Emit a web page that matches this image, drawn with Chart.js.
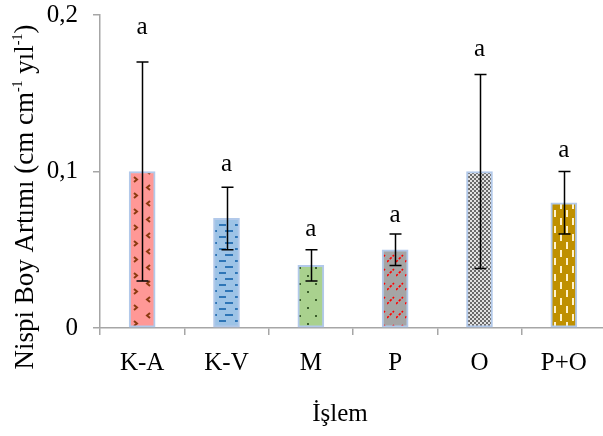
<!DOCTYPE html>
<html><head><meta charset="utf-8">
<script src="https://cdn.jsdelivr.net/npm/chart.js@4"></script>
<style>html,body{margin:0;padding:0;overflow:hidden;background:#fff;} #wrap{width:606px;height:436px;position:relative;}</style>
</head><body><div id="wrap"><canvas id="c" width="606" height="436"></canvas></div>
<script>
// ---- data ----
const categories = ['K-A', 'K-V', 'M', 'P', 'O', 'P+O'];
const values = [0.1, 0.07, 0.04, 0.05, 0.1, 0.08];
const errLow = [0.03, 0.05, 0.03, 0.04, 0.038, 0.06];
const errHigh = [0.17, 0.09, 0.05, 0.06, 0.162, 0.1];
const letters = ['a', 'a', 'a', 'a', 'a', 'a'];
const letterY = [0.1876, 0.1006, 0.059, 0.0675, 0.174, 0.109];
const yTickValues = [0, 0.1, 0.2];
const yTickLabels = ['0', '0,1', '0,2'];
const xTitle = 'İşlem';
const yTitleParts = [['Nispi Boy Artımı (cm cm', false], ['-1', true], [' yıl', false], ['-1', true], [')', false]];

const FONT = '"Liberation Serif", "Times New Roman", serif';

function makePattern(w, h, bg, draw) {
  const c = document.createElement('canvas');
  c.width = w; c.height = h;
  const g = c.getContext('2d');
  g.fillStyle = bg; g.fillRect(0, 0, w, h);
  draw(g);
  return document.getElementById('c').getContext('2d').createPattern(c, 'repeat');
}
const patterns = [
  makePattern(22, 16, '#FF9896', g => {
    g.strokeStyle = '#8B3A10'; g.lineWidth = 2;
    g.beginPath(); g.moveTo(2, 1); g.lineTo(5, 3.5); g.lineTo(2, 6); g.stroke();
    g.beginPath(); g.moveTo(18, 9); g.lineTo(15, 11.5); g.lineTo(18, 14); g.stroke();
  }),
  makePattern(16, 12, '#9DC3E6', g => {
    g.fillStyle = '#2E75B6';
    g.fillRect(1, 2, 8, 2);
    g.fillRect(11, 8, 5, 2);
    g.fillRect(0, 8, 2, 2);
  }),
  makePattern(16, 16, '#A9D18E', g => {
    g.fillStyle = '#3B5E2B';
    g.fillRect(3, 3, 2, 2);
    g.fillRect(11, 11, 2, 2);
  }),
  makePattern(9, 14, '#A5A5A5', g => {
    g.strokeStyle = '#FF0000'; g.lineWidth = 1.6; g.setLineDash([2.5, 1.5]);
    g.beginPath(); g.moveTo(0, 10); g.lineTo(7, 3); g.stroke();
  }),
  makePattern(4, 4, '#E2E2E2', g => {
    g.fillStyle = '#6A6A6A';
    g.fillRect(0, 0, 2, 2); g.fillRect(2, 2, 2, 2);
  }),
  makePattern(12, 16, '#BF9000', g => {
    g.fillStyle = '#FFF2CC';
    g.fillRect(2, 2, 2, 7);
    g.fillRect(8, 10, 2, 7);
    g.fillRect(8, -6, 2, 7);
  })
];

const overlay = {
  id: 'overlay',
  afterDatasetsDraw(chart) {
    const ctx = chart.ctx;
    const meta = chart.getDatasetMeta(0);
    const y = chart.scales.y;
    ctx.save();
    ctx.strokeStyle = '#000'; ctx.lineWidth = 1.5;
    meta.data.forEach((bar, i) => {
      const x = Math.round(bar.x) + 0.5;
      const yh = y.getPixelForValue(errHigh[i]);
      const yl = y.getPixelForValue(errLow[i]);
      ctx.beginPath();
      ctx.moveTo(x, yh); ctx.lineTo(x, yl);
      ctx.moveTo(x - 6, yh); ctx.lineTo(x + 6, yh);
      ctx.moveTo(x - 6, yl); ctx.lineTo(x + 6, yl);
      ctx.stroke();
      ctx.fillStyle = '#000';
      ctx.font = '25px ' + FONT;
      ctx.textAlign = 'center'; ctx.textBaseline = 'alphabetic';
      ctx.fillText(letters[i], bar.x, y.getPixelForValue(letterY[i]));
    });
    // x title
    ctx.font = '25px ' + FONT;
    ctx.textAlign = 'center'; ctx.textBaseline = 'alphabetic';
    ctx.fillText(xTitle, 340, 421);
    // y title with superscripts
    ctx.translate(33, 197);
    ctx.rotate(-Math.PI / 2);
    let total = 0;
    const widths = yTitleParts.map(([t, sup]) => {
      ctx.font = (sup ? '14px ' : '27px ') + FONT;
      const w = ctx.measureText(t).width; total += w; return w;
    });
    let xx = -total / 2;
    ctx.textAlign = 'left';
    yTitleParts.forEach(([t, sup], i) => {
      ctx.font = (sup ? '14px ' : '27px ') + FONT;
      ctx.fillText(t, xx, sup ? -11 : 0);
      xx += widths[i];
    });
    ctx.restore();
  }
};

new Chart(document.getElementById('c'), {
  type: 'bar',
  data: {
    labels: categories,
    datasets: [{
      data: values,
      backgroundColor: patterns,
      borderColor: 'rgba(170,195,232,0.9)',
      borderWidth: 2,
      borderSkipped: false,
      barThickness: 26
    }]
  },
  options: {
    responsive: false,
    animation: false,
    devicePixelRatio: 1,
    layout: { padding: { top: 15, right: 0, bottom: 0, left: 0 } },
    plugins: { legend: { display: false }, tooltip: { enabled: false } },
    scales: {
      x: {
        offset: true,
        grid: { display: true, drawOnChartArea: false, offset: true, tickLength: 7, color: '#A6A6A6', lineWidth: 1.5 },
        border: { color: '#A6A6A6', width: 1.5 },
        ticks: { color: '#000', font: { family: FONT, size: 25 }, padding: 13, maxRotation: 0 },
        afterFit(s) { s.height = 436 - 328; s.paddingLeft = 0; s.paddingRight = 0; }
      },
      y: {
        min: 0, max: 0.2,
        afterBuildTicks(s) { s.ticks = yTickValues.map(v => ({ value: v })); },
        grid: { display: true, drawOnChartArea: false, tickLength: 7, color: '#A6A6A6', lineWidth: 1.5 },
        border: { color: '#A6A6A6', width: 1.5 },
        ticks: {
          color: '#000', font: { family: FONT, size: 25 }, padding: 15,
          callback: (v) => yTickLabels[yTickValues.indexOf(v)] ?? ''
        },
        afterFit(s) { s.width = 100; s.paddingTop = 0; s.paddingBottom = 0; }
      }
    }
  },
  plugins: [overlay]
});
</script>
</body></html>
